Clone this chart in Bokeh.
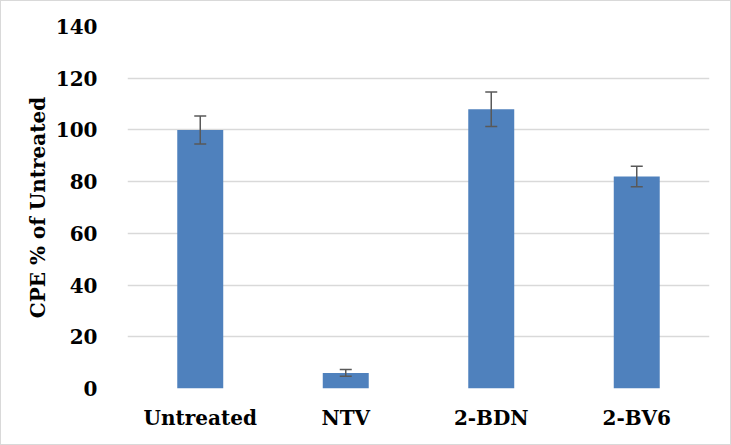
from bokeh.plotting import figure
from bokeh.models import ColumnDataSource, Whisker, TeeHead, FixedTicker
from bokeh.embed import file_html
from bokeh.resources import INLINE

categories = ["Untreated", "NTV", "2-BDN", "2-BV6"]
values = [100, 6, 108, 82]
errors = [5.4, 1.3, 6.7, 4.0]
y_ticks = [0, 20, 40, 60, 80, 100, 120, 140]

upper = [v + e for v, e in zip(values, errors)]
lower = [v - e for v, e in zip(values, errors)]
src = ColumnDataSource(data=dict(cat=categories, val=values, upper=upper, lower=lower))

FONT = "DejaVu Serif"

p = figure(x_range=categories, y_range=(0, 140), width=731, height=445,
           output_backend="svg", toolbar_location=None,
           min_border_left=126, min_border_right=23, min_border_top=25, min_border_bottom=58)
p.styles = {"border": "1px solid #D9D9D9", "box-sizing": "border-box"}

p.vbar(x="cat", top="val", width=0.316, source=src, fill_color="#4F81BD", line_color=None)

w = Whisker(base="cat", upper="upper", lower="lower", source=src,
            line_color="#595959", line_width=1.5, level="overlay",
            upper_head=TeeHead(size=12, line_color="#595959", line_width=1.5),
            lower_head=TeeHead(size=12, line_color="#595959", line_width=1.5))
p.add_layout(w)

p.outline_line_color = None
p.xgrid.grid_line_color = None
p.ygrid.grid_line_color = "#D9D9D9"
p.ygrid.grid_line_width = 1.5
p.yaxis.ticker = FixedTicker(ticks=y_ticks)

for ax in (p.xaxis, p.yaxis):
    ax.axis_line_color = None
    ax.major_tick_line_color = None
    ax.minor_tick_line_color = None
    ax.major_label_text_font = FONT
    ax.major_label_text_font_style = "bold"
    ax.major_label_text_font_size = "20px"
    ax.major_label_text_color = "#000000"

p.yaxis.major_label_standoff = 24
p.xaxis.major_label_standoff = 11
p.yaxis.axis_label = "CPE % of Untreated"
p.yaxis.axis_label_text_font = FONT
p.yaxis.axis_label_text_font_style = "bold"
p.yaxis.axis_label_text_font_size = "20px"
p.yaxis.axis_label_text_color = "#000000"
p.yaxis.axis_label_standoff = 3

open("out.html", "w").write(file_html(p, INLINE))
